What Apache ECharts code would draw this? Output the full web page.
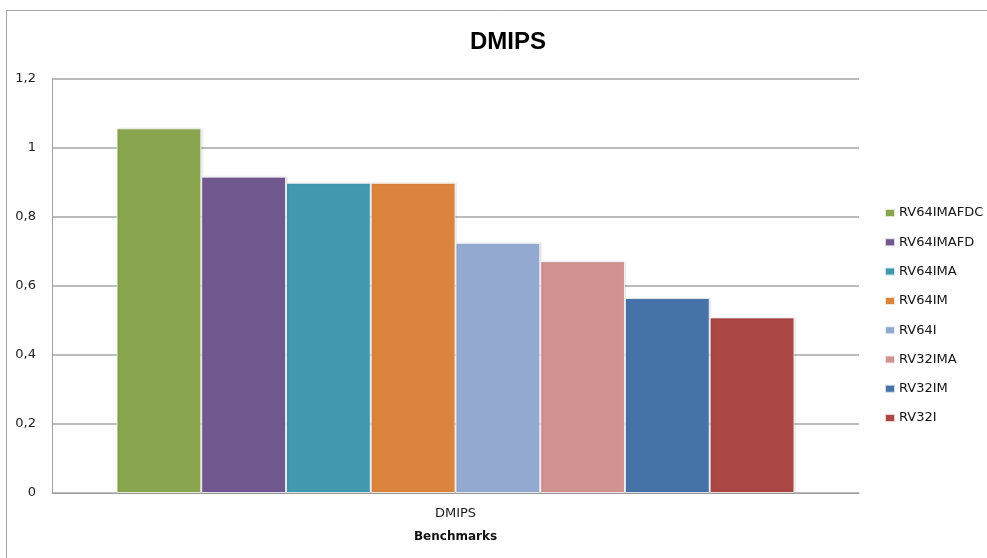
<!DOCTYPE html>
<html>
<head>
<meta charset="utf-8">
<script src="https://cdn.jsdelivr.net/npm/echarts@6/dist/echarts.min.js"></script>
<style>
  html, body { margin: 0; padding: 0; background: #fff; }
  #chart { width: 987px; height: 558px; }
</style>
</head>
<body>
<div id="chart"></div>
<script>
// Benchmark category and per-configuration DMIPS scores
const categories = ['DMIPS'];
const seriesNames = ['RV64IMAFDC', 'RV64IMAFD', 'RV64IMA', 'RV64IM', 'RV64I', 'RV32IMA', 'RV32IM', 'RV32I'];
const seriesValues = [1.057, 0.917, 0.899, 0.899, 0.725, 0.672, 0.565, 0.509];
const seriesColors = ['#89A54E', '#71588F', '#4198AF', '#DB843D', '#93A9CF', '#D19392', '#4572A7', '#AA4643'];
const yTicks = [0, 0.2, 0.4, 0.6, 0.8, 1, 1.2];

const FONT = 'DejaVu Sans';
const chart = echarts.init(document.getElementById('chart'));

chart.setOption({
  animation: false,
  backgroundColor: '#ffffff',
  title: {
    text: 'DMIPS',
    left: 503,
    textAlign: 'center',
    top: 25,
    textStyle: { fontFamily: 'Liberation Sans', fontWeight: 'bold', fontSize: 24, color: '#000' }
  },
  graphic: [{
    type: 'rect',
    shape: { x: 6.5, y: 10.5, width: 1000, height: 600 },
    style: { fill: 'none', stroke: '#a6a6a6', lineWidth: 1 },
    silent: true,
    z: -1
  }],
  legend: {
    orient: 'vertical',
    left: 884,
    top: 206,
    padding: 0,
    icon: 'rect',
    itemWidth: 10,
    itemHeight: 8,
    itemGap: 15.3,
    data: seriesNames,
    textStyle: { fontFamily: FONT, fontSize: 13, lineHeight: 14, color: '#141414', padding: [0, 0, 0, -1] }
  },
  grid: { left: 52, right: 128, top: 79, bottom: 65, containLabel: false },
  xAxis: {
    type: 'category',
    data: categories,
    name: 'Benchmarks',
    nameLocation: 'middle',
    nameGap: 38,
    nameTextStyle: { fontFamily: FONT, fontSize: 12, fontWeight: 'bold', color: '#111' },
    axisLine: { lineStyle: { color: '#a0a0a0', width: 1 } },
    axisTick: { show: false },
    axisLabel: { margin: 14, fontFamily: FONT, fontSize: 13, color: '#1c1c1c' }
  },
  yAxis: {
    type: 'value',
    min: yTicks[0],
    max: yTicks[yTicks.length - 1],
    interval: 0.2,
    axisLine: { show: true, lineStyle: { color: '#a0a0a0', width: 1 } },
    axisTick: { show: false },
    splitLine: { lineStyle: { color: '#a6a6a6', width: 1.5 } },
    axisLabel: {
      margin: 16,
      fontFamily: FONT,
      fontSize: 13,
      color: '#1c1c1c',
      formatter: v => String(Math.round(v * 10) / 10).replace('.', ',')
    }
  },
  series: seriesNames.map((name, i) => ({
    name,
    type: 'bar',
    data: [seriesValues[i]],
    barGap: '0%',
    barCategoryGap: '16%',
    itemStyle: {
      color: seriesColors[i],
      borderColor: 'rgba(255,255,255,0.75)',
      borderWidth: 1,
      shadowColor: 'rgba(0,0,0,0.12)',
      shadowBlur: 2,
      shadowOffsetX: 1,
      shadowOffsetY: 0
    }
  }))
});
</script>
</body>
</html>
